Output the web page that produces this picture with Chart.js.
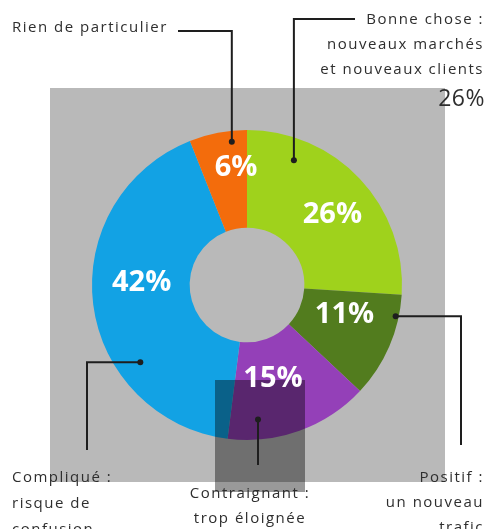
<!DOCTYPE html>
<html>
<head>
<meta charset="utf-8">
<script src="https://cdn.jsdelivr.net/npm/chart.js@4/dist/chart.umd.min.js"></script>
<style>
  html, body { margin: 0; padding: 0; background: #fff; }
  #wrap { width: 488px; height: 529px; position: relative; }
</style>
</head>
<body>
<div id="wrap"><canvas id="donut"></canvas></div>
<script>
// slices, clockwise from the top
const categories = ["Bonne chose", "Positif", "Contraignant", "Compliqué", "Rien de particulier"];
const values = [26, 11, 15, 42, 6];
const sliceColors = ["#9fd21c", "#527c1e", "#9440b8", "#12a2e4", "#f36c0c"];
const valueLabels = ["26%", "11%", "15%", "42%", "6%"];
const captionLines = [
    ["Bonne chose :", "nouveaux marchés", "et nouveaux clients"],
    ["Positif :", "un nouveau", "trafic"],
    ["Contraignant :", "trop éloignée"],
    ["Compliqué :", "risque de", "confusion"],
    ["Rien de particulier"]
];
const headlineValue = "26%";

const decor = {
    id: "decor",
    beforeDraw(chart) {
        const ctx = chart.ctx;
        ctx.save();
        ctx.fillStyle = "#fff";
        ctx.fillRect(0, 0, chart.width, chart.height);
        ctx.fillStyle = "#b9b9b9";
        ctx.fillRect(50, 88, 395, 394);
        ctx.restore();
    },
    afterDatasetsDraw(chart) {
        const ctx = chart.ctx;
        const arcs = chart.getDatasetMeta(0).data;
        ctx.save();

        // dark overlay box
        ctx.fillStyle = "rgba(0,0,0,0.4)";
        ctx.fillRect(215, 380, 90, 112);

        // percentages inside slices
        const nudge = [[8, 2], [0, -12], [-10, -6], [0, -16], [9, -13]];
        ctx.fillStyle = "#fff";
        ctx.font = "bold 29px 'Open Sans'";
        ctx.textAlign = "center";
        ctx.textBaseline = "middle";
        arcs.forEach((a, i) => {
            const mid = (a.startAngle + a.endAngle) / 2;
            const r = (a.innerRadius + a.outerRadius) / 2;
            ctx.fillText(valueLabels[i], a.x + r * Math.cos(mid) + nudge[i][0], a.y + r * Math.sin(mid) + nudge[i][1]);
        });

        // leader lines
        const spot = (i, t, rf) => {
            const a = arcs[i];
            const ang = a.startAngle + t * (a.endAngle - a.startAngle);
            return [a.x + rf * a.outerRadius * Math.cos(ang), a.y + rf * a.outerRadius * Math.sin(ang)];
        };
        const leaders = [
            [spot(0, 0.22, 0.86), p => [[p[0], 19], [355, 19]]],
            [spot(1, 0.21, 0.98), p => [[461, p[1]], [461, 445]]],
            [spot(2, 0.78, 0.87), p => [[p[0], 465]]],
            [spot(3, 0.31, 0.85), p => [[87, p[1]], [87, 450]]],
            [spot(4, 0.72, 0.93), p => [[p[0], 31], [178, 31]]]
        ];
        ctx.strokeStyle = "#1e1e1e";
        ctx.fillStyle = "#1e1e1e";
        ctx.lineWidth = 2;
        leaders.forEach(([p, path]) => {
            ctx.beginPath();
            ctx.moveTo(p[0], p[1]);
            path(p).forEach(q => ctx.lineTo(q[0], q[1]));
            ctx.stroke();
            ctx.beginPath();
            ctx.arc(p[0], p[1], 3, 0, Math.PI * 2);
            ctx.fill();
        });

        // captions
        ctx.fillStyle = "#2e2e2e";
        ctx.font = "15px 'Open Sans'";
        ctx.letterSpacing = "1.5px";
        ctx.textBaseline = "middle";
        const put = (lines, x, y, align, step) => {
            ctx.textAlign = align;
            lines.forEach((s, k) => ctx.fillText(s, x, y + k * step));
        };
        put(captionLines[4], 12, 28, "left", 25);
        put(captionLines[0], 484, 20, "right", 25);
        put(captionLines[3], 12, 478, "left", 26);
        put(captionLines[2], 250, 494, "center", 25);
        put(captionLines[1], 484, 478, "right", 25);

        ctx.letterSpacing = "0.5px";
        ctx.font = "23px 'Open Sans'";
        ctx.textAlign = "right";
        ctx.fillStyle = "#2e2e2e";
        ctx.fillText(headlineValue, 485, 99);
        ctx.restore();
    }
};

new Chart(document.getElementById("donut"), {
    type: "doughnut",
    data: {
        labels: categories,
        datasets: [{
            data: values,
            backgroundColor: sliceColors,
            borderWidth: 0
        }]
    },
    options: {
        responsive: true,
        maintainAspectRatio: false,
        animation: false,
        cutout: "37%",
        layout: { padding: { left: 92, right: 86, top: 130, bottom: 89 } },
        plugins: {
            legend: { display: false },
            tooltip: { enabled: false }
        }
    },
    plugins: [decor]
});
</script>
</body>
</html>
